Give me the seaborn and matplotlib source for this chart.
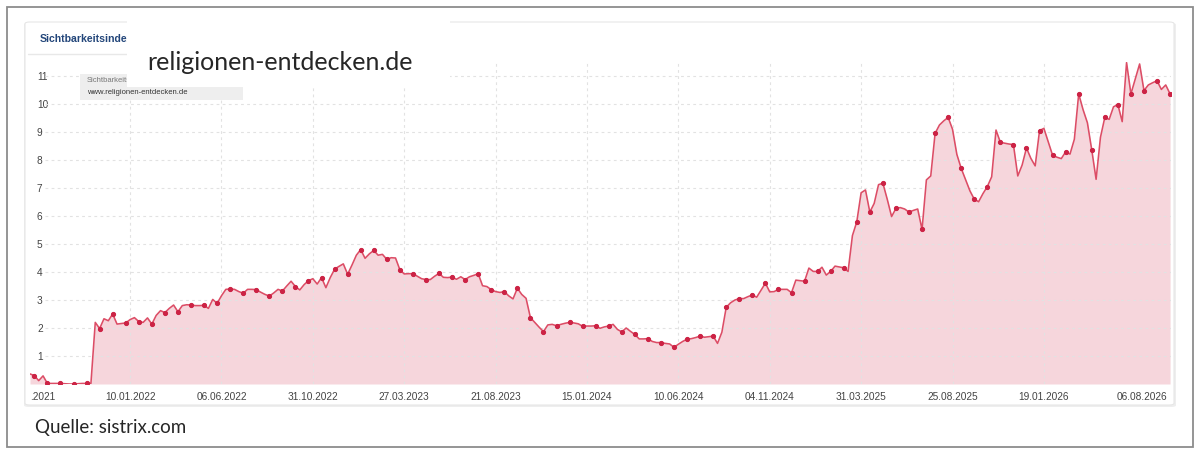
import pandas as pd
import matplotlib.pyplot as plt
import matplotlib.patches as mpatches
import seaborn as sns

# weekly Sichtbarkeitsindex values, starting 02.08.2021
vals_2021 = [0.36, 0.30, 0.12, 0.29, 0.02, 0.02, 0.02, 0.02, 0.01, 0.0,
             0.0, 0.01, 0.02, 0.02, 0.02, 2.2, 1.98, 2.33, 2.26, 2.5,
             2.14, 2.16]
vals_2022 = [2.18, 2.3, 2.37, 2.23, 2.2, 2.36, 2.14, 2.45, 2.62, 2.55,
             2.7, 2.82, 2.58, 2.8, 2.83, 2.82, 2.8, 2.8, 2.81, 2.7,
             3.02, 2.88, 3.15, 3.38, 3.39, 3.38, 3.3, 3.24, 3.38, 3.38,
             3.37, 3.28, 3.2, 3.14, 3.25, 3.38, 3.32, 3.5, 3.67, 3.48,
             3.36, 3.55, 3.69, 3.76, 3.57, 3.8, 3.44, 3.8, 4.1, 4.2,
             4.29, 3.92]
vals_2023 = [4.25, 4.6, 4.8, 4.49, 4.65, 4.77, 4.6, 4.63, 4.45, 4.51,
             4.5, 4.08, 3.93, 3.94, 3.94, 3.85, 3.76, 3.73, 3.73, 3.85,
             3.95, 3.81, 3.8, 3.82, 3.74, 3.83, 3.73, 3.83, 3.88, 3.94,
             3.51, 3.48, 3.37, 3.3, 3.27, 3.3, 3.15, 3.04, 3.42, 3.2,
             3.06, 2.37, 2.2, 2.03, 1.87, 2.11, 2.13, 2.08, 2.13, 2.17,
             2.2, 2.18]
vals_2024 = [2.15, 2.06, 2.07, 2.07, 2.08, 1.99, 2.04, 2.07, 2.13, 1.95,
             1.86, 2.0, 1.88, 1.77, 1.61, 1.61, 1.62, 1.52, 1.48, 1.48,
             1.45, 1.43, 1.31, 1.42, 1.52, 1.6, 1.62, 1.66, 1.71, 1.67,
             1.69, 1.71, 1.45, 1.85, 2.74, 2.9, 3.0, 3.05, 3.05, 3.12,
             3.18, 3.1, 3.35, 3.6, 3.29, 3.3, 3.38, 3.38, 3.38, 3.26,
             3.71, 3.69]
vals_2025 = [3.67, 4.14, 4.02, 4.02, 4.17, 3.89, 4.02, 4.21, 4.18, 4.15,
             4.02, 5.3, 5.79, 6.83, 6.93, 6.14, 6.45, 7.12, 7.17, 6.6,
             5.98, 6.27, 6.3, 6.25, 6.14, 6.2, 6.25, 5.52, 7.29, 7.43,
             8.95, 9.25, 9.4, 9.52, 9.1, 8.2, 7.7, 7.3, 6.9, 6.6,
             6.51, 6.8, 7.05, 7.4, 9.07, 8.63, 8.6, 8.57, 8.55, 7.43,
             7.82, 8.43]
vals_2026 = [8.06, 7.79, 9.05, 9.13, 8.65, 8.17, 8.1, 8.05, 8.29, 8.21,
             8.74, 10.36, 9.8, 9.33, 8.36, 7.31, 8.81, 9.52, 9.45, 9.9,
             9.98, 9.37, 11.48, 10.36, 10.9, 11.43, 10.48, 10.68, 10.76, 10.83,
             10.52, 10.68, 10.36]
values = vals_2021 + vals_2022 + vals_2023 + vals_2024 + vals_2025 + vals_2026
dates = pd.date_range('2021-08-02', periods=len(values), freq='7D')

tick_dates = ['2021-08-02', '2022-01-10', '2022-06-06', '2022-10-31', '2023-03-27',
              '2023-08-21', '2024-01-15', '2024-06-10', '2024-11-04', '2025-03-31',
              '2025-08-25', '2026-01-19', '2026-08-06']
tick_labels = ['.2021', '10.01.2022', '06.06.2022', '31.10.2022', '27.03.2023',
               '21.08.2023', '15.01.2024', '10.06.2024', '04.11.2024', '31.03.2025',
               '25.08.2025', '19.01.2026', '06.08.2026']
y_ticks = [1, 2, 3, 4, 5, 6, 7, 8, 9, 10, 11]

sns.set_style('white')
plt.rcParams['font.family'] = ['Liberation Sans', 'DejaVu Sans']

W, H = 1200, 454
fig = plt.figure(figsize=(12, 4.54), dpi=100)

def box(x0, y0, x1, y1):
    # pixel box (top-left origin) -> figure fraction rect
    return (x0 / W, 1 - y1 / H, (x1 - x0) / W, (y1 - y0) / H)

# outer frame
fx, fy, fw, fh = box(7, 7, 1193, 447)
fig.patches.append(mpatches.Rectangle((fx, fy), fw, fh, transform=fig.transFigure,
                                      fill=False, edgecolor='#8c8c8c', linewidth=1.3))
# card with soft shadow
sx, sy, sw, sh = box(24, 23, 1176, 407)
fig.patches.append(mpatches.FancyBboxPatch((sx, sy), sw, sh, boxstyle='round,pad=0,rounding_size=0.004',
                                           transform=fig.transFigure, facecolor='#eeeeee',
                                           edgecolor='none', zorder=-2))
cx, cy, cw, ch = box(25, 22, 1174, 405)
fig.patches.append(mpatches.FancyBboxPatch((cx, cy), cw, ch, boxstyle='round,pad=0,rounding_size=0.004',
                                           transform=fig.transFigure, facecolor='white',
                                           edgecolor='#e6e6e6', linewidth=0.8, zorder=-1))

ax = fig.add_axes(box(30, 62, 1170.7, 384))
ax.set_facecolor('none')
ax.set_zorder(2)

ax.fill_between(dates, values, 0, color='#f6d6dc', linewidth=0, zorder=1)
sns.lineplot(x=dates, y=values, ax=ax, color='#dc4d66', linewidth=1.15,
             marker='o', markersize=3.0, markerfacecolor='#cc2345',
             markeredgecolor='#cc2345', markevery=(1, 3), zorder=3)

ax.set_xlim(pd.Timestamp('2021-08-02'), pd.Timestamp('2026-08-11'))
ax.set_ylim(0, 11.5)

grid_kw = dict(color='#e2e2e2', linewidth=0.8, linestyle=(0, (2.5, 3)), zorder=2)
for d in tick_dates[1:-1]:
    ax.axvline(pd.Timestamp(d), **grid_kw)
for v in y_ticks:
    ax.axhline(v, xmin=0.013, **grid_kw)

ax.set_xticks(pd.to_datetime(tick_dates))
ax.set_xticklabels(tick_labels, fontsize=7.3, color='#444444')
labels = ax.get_xticklabels()
labels[0].set_ha('left')
labels[-1].set_ha('right')
ax.set_yticks(y_ticks)
ax.set_yticklabels([str(v) for v in y_ticks], fontsize=7.3, color='#444444')
for lbl in ax.get_yticklabels():
    lbl.set_ha('left')
ax.tick_params(axis='x', length=0, pad=6)
ax.tick_params(axis='y', length=0, pad=-5)
ax.set_xlabel('')
ax.set_ylabel('')
sns.despine(ax=ax, left=True, bottom=True)

# header of the screenshot
fig.text(40 / W, 1 - 39 / H, 'Sichtbarkeitsindex', fontsize=7.6, fontweight='bold',
         color='#23467a', va='center', ha='left', zorder=5)
fig.add_artist(plt.Line2D([28 / W, 127 / W], [1 - 54 / H, 1 - 54 / H], color='#e8e8e8',
                          linewidth=1, transform=fig.transFigure, zorder=5))

# tooltip (partly hidden)
tx, ty, tw, th = box(80, 74, 243, 100)
fig.patches.append(mpatches.Rectangle((tx, ty), tw, th, transform=fig.transFigure,
                                      facecolor='#eeeeee', edgecolor='none', zorder=6))
fig.text(87 / W, 1 - 81 / H, 'Sichtbarkeitsindex', fontsize=5.5, color='#777777',
         va='center', ha='left', zorder=7)
fig.text(87 / W, 1 - 93 / H, 'www.religionen-entdecken.de', fontsize=5.5, color='#333333',
         va='center', ha='left', zorder=7)

# white box with the title
wx, wy, wh_ = 127 / W, 1 - 87 / H, (87 - 20) / H
fig.patches.append(mpatches.Rectangle((wx, wy), (450 - 127) / W, wh_, transform=fig.transFigure,
                                      facecolor='white', edgecolor='none', zorder=8))
fig.text(147 / W, 1 - 63 / H, 'religionen-entdecken.de', fontsize=18,
         family=['Lato', 'DejaVu Sans'], color='#262626',
         va='center', ha='left', zorder=9)

fig.text(35 / W, 1 - 428 / H, 'Quelle: sistrix.com', fontsize=13.5,
         family=['Lato', 'DejaVu Sans'], color='#262626',
         va='center', ha='left', zorder=9)

fig.savefig('out.png', dpi=100)
